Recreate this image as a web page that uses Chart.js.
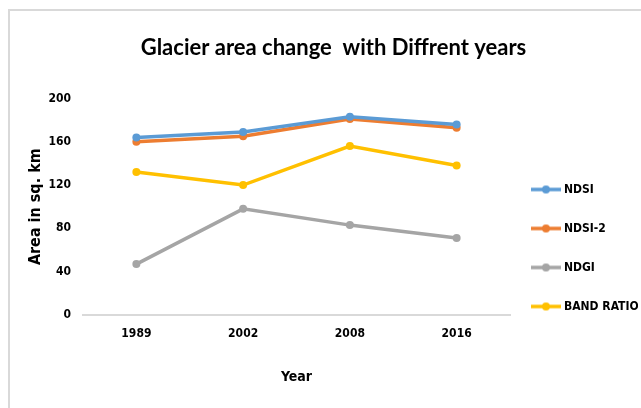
<!DOCTYPE html>
<html>
<head>
<meta charset="utf-8">
<script src="https://cdn.jsdelivr.net/npm/chart.js@4"></script>
<style>
  body { margin: 0; background: #fff; }
  #wrap { position: relative; width: 641px; height: 408px; overflow: hidden; }
  #frame { position: absolute; left: 8px; top: 9px; width: 700px; height: 500px;
           border-top: 2px solid #d9d9d9; border-left: 2px solid #d9d9d9; }
  canvas { position: absolute; left: 0; top: 0; }
</style>
</head>
<body>
<div id="wrap">
  <div id="frame"></div>
  <canvas id="glacierChart" width="641" height="408"></canvas>
</div>
<script>
  const years = ["1989", "2002", "2008", "2016"];
  const ndsi = [164, 169, 183, 176];
  const ndsi2 = [160, 165, 181, 173];
  const ndgi = [47, 98, 83, 71];
  const bandRatio = [132, 120, 156, 138];
  const yTicks = [0, 40, 80, 120, 160, 200];

  const condensed = "'DejaVu Sans Condensed', 'DejaVu Sans', sans-serif";

  // little line-with-dot marker for the legend
  function legendMarker(color) {
    const c = document.createElement("canvas");
    c.width = 30;
    c.height = 10;
    const g = c.getContext("2d");
    g.strokeStyle = color;
    g.lineWidth = 3.5;
    g.beginPath();
    g.moveTo(0, 5);
    g.lineTo(30, 5);
    g.stroke();
    g.fillStyle = color;
    g.beginPath();
    g.arc(15, 5, 4, 0, Math.PI * 2);
    g.fill();
    return c;
  }

  function series(label, data, color) {
    return {
      label: label,
      data: data,
      borderColor: color,
      backgroundColor: color,
      borderWidth: 3.5,
      pointRadius: 4,
      pointHoverRadius: 4,
      pointBackgroundColor: color,
      pointBorderWidth: 0,
      pointStyle: "circle",
      tension: 0,
      legendMarker: legendMarker(color),
    };
  }

  const datasets = [
    series("NDSI", ndsi, "#5b9bd5"),
    series("NDSI-2", ndsi2, "#ed7d31"),
    series("NDGI", ndgi, "#a5a5a5"),
    series("BAND RATIO", bandRatio, "#ffc000"),
  ];

  // nudge legend to where it sits in the original
  const legendShift = {
    id: "legendShift",
    afterLayout(chart) {
      const lg = chart.legend;
      if (!lg) return;
      lg.top += 44;
      lg.bottom += 44;
      lg.left -= 3;
      lg.right -= 3;
    },
  };

  const ctx = document.getElementById("glacierChart").getContext("2d");
  const glacierChart = new Chart(ctx, {
    type: "line",
    data: { labels: years, datasets: datasets },
    plugins: [legendShift],
    options: {
      responsive: false,
      animation: false,
      layout: { padding: { left: 26, right: 0, top: 0, bottom: 0 } },
      plugins: {
        title: {
          display: true,
          text: "Glacier area change  with Diffrent years",
          color: "#000",
          font: { family: "Lato, sans-serif", size: 22, weight: "bold" },
          padding: { top: 35, bottom: 37 },
        },
        legend: {
          position: "right",
          maxWidth: 131,
          labels: {
            color: "#000",
            font: { family: condensed, size: 12, weight: "bold" },
            usePointStyle: true,
            pointStyleWidth: 24,
            padding: 27,
            generateLabels(chart) {
              return chart.data.datasets.map((ds, i) => ({
                text: ds.label,
                pointStyle: ds.legendMarker,
                fillStyle: ds.borderColor,
                strokeStyle: ds.borderColor,
                lineWidth: 0,
                datasetIndex: i,
                hidden: false,
                fontColor: "#000",
              }));
            },
          },
        },
        tooltip: { enabled: false },
      },
      scales: {
        x: {
          offset: true,
          grid: { display: false, drawTicks: false },
          border: { display: true, color: "#d9d9d9", width: 2 },
          ticks: {
            color: "#000",
            padding: 12,
            font: { family: condensed, size: 12, weight: "bold" },
          },
          title: {
            display: true,
            text: "Year",
            color: "#000",
            font: { family: condensed, size: 14, weight: "bold" },
            padding: { top: 18, bottom: 22 },
          },
          afterFit(scale) {
            scale.height = 93;
          },
        },
        y: {
          min: 0,
          max: 200,
          afterBuildTicks(scale) {
            scale.ticks = yTicks.map((v) => ({ value: v }));
          },
          grid: { display: false, drawTicks: false },
          border: { display: false },
          ticks: {
            color: "#000",
            padding: 12,
            font: { family: condensed, size: 12, weight: "bold" },
          },
          title: {
            display: true,
            text: "Area in sq. km",
            color: "#000",
            font: { family: condensed, size: 16, weight: "bold" },
            padding: { top: 0, bottom: 8 },
          },
          afterFit(scale) {
            scale.width = 57;
          },
        },
      },
    },
  });
</script>
</body>
</html>
